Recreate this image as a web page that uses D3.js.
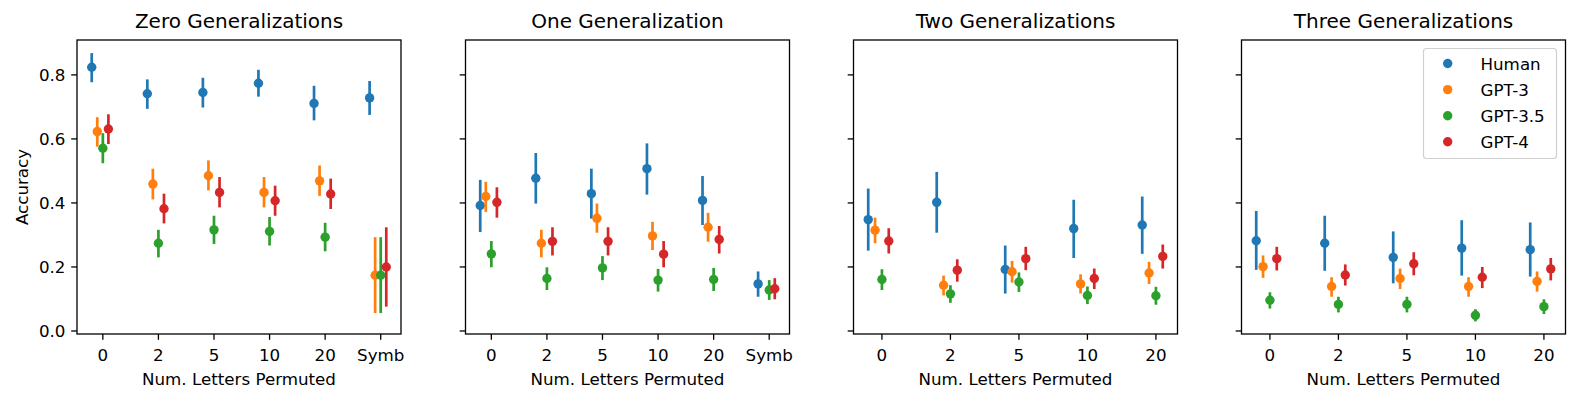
<!DOCTYPE html>
<html>
<head>
<meta charset="utf-8">
<script src="https://cdn.jsdelivr.net/npm/d3@7"></script>
<style>
  body { margin: 0; background: #fff; }
  svg { font-family: "DejaVu Sans", sans-serif; }
</style>
</head>
<body>
<div id="chart"></div>
<script>
// categories per panel
const catsSymb = ["0", "2", "5", "10", "20", "Symb"];
const catsNum = ["0", "2", "5", "10", "20"];
const titles = ["Zero Generalizations", "One Generalization", "Two Generalizations", "Three Generalizations"];
const seriesNames = ["Human", "GPT-3", "GPT-3.5", "GPT-4"];
const colors = ["#1f77b4", "#ff7f0e", "#2ca02c", "#d62728"];
const yTicks = [0.0, 0.2, 0.4, 0.6, 0.8];

// [mean, low, high] for each category
const humanZero = [[0.824, 0.777, 0.868], [0.741, 0.694, 0.786], [0.745, 0.698, 0.791], [0.774, 0.732, 0.816], [0.711, 0.658, 0.766], [0.728, 0.675, 0.781]];
const gpt3Zero = [[0.623, 0.576, 0.668], [0.459, 0.411, 0.507], [0.485, 0.439, 0.533], [0.433, 0.386, 0.481], [0.469, 0.422, 0.517], [0.174, 0.056, 0.293]];
const gpt35Zero = [[0.571, 0.524, 0.618], [0.274, 0.230, 0.316], [0.316, 0.272, 0.360], [0.311, 0.267, 0.356], [0.293, 0.249, 0.338], [0.174, 0.056, 0.293]];
const gpt4Zero = [[0.631, 0.584, 0.677], [0.382, 0.336, 0.429], [0.433, 0.386, 0.481], [0.407, 0.360, 0.454], [0.428, 0.381, 0.476], [0.200, 0.076, 0.324]];

const humanOne = [[0.392, 0.309, 0.472], [0.477, 0.398, 0.556], [0.429, 0.351, 0.507], [0.507, 0.426, 0.586], [0.408, 0.331, 0.484], [0.147, 0.107, 0.186]];
const gpt3One = [[0.420, 0.372, 0.466], [0.274, 0.230, 0.316], [0.352, 0.307, 0.398], [0.297, 0.253, 0.341], [0.324, 0.279, 0.369], null];
const gpt35One = [[0.241, 0.199, 0.281], [0.164, 0.128, 0.199], [0.197, 0.159, 0.234], [0.159, 0.123, 0.194], [0.161, 0.125, 0.197], [0.128, 0.097, 0.159]];
const gpt4One = [[0.402, 0.354, 0.449], [0.280, 0.236, 0.324], [0.280, 0.236, 0.324], [0.240, 0.199, 0.281], [0.286, 0.242, 0.328], [0.132, 0.099, 0.165]];

const humanTwo = [[0.348, 0.251, 0.445], [0.402, 0.307, 0.497], [0.192, 0.117, 0.267], [0.320, 0.228, 0.410], [0.331, 0.241, 0.420]];
const gpt3Two = [[0.315, 0.274, 0.354], [0.143, 0.111, 0.173], [0.185, 0.151, 0.219], [0.147, 0.117, 0.177], [0.181, 0.147, 0.216]];
const gpt35Two = [[0.161, 0.128, 0.193], [0.116, 0.088, 0.143], [0.153, 0.122, 0.183], [0.111, 0.084, 0.139], [0.110, 0.082, 0.138]];
const gpt4Two = [[0.281, 0.242, 0.321], [0.190, 0.154, 0.224], [0.226, 0.190, 0.263], [0.164, 0.131, 0.195], [0.233, 0.195, 0.270]];

const humanThree = [[0.282, 0.191, 0.375], [0.274, 0.188, 0.360], [0.230, 0.149, 0.311], [0.259, 0.173, 0.346], [0.254, 0.170, 0.339]];
const gpt3Three = [[0.201, 0.166, 0.236], [0.139, 0.107, 0.168], [0.164, 0.131, 0.195], [0.139, 0.107, 0.168], [0.155, 0.123, 0.186]];
const gpt35Three = [[0.096, 0.070, 0.121], [0.083, 0.058, 0.107], [0.083, 0.058, 0.107], [0.049, 0.030, 0.068], [0.076, 0.053, 0.099]];
const gpt4Three = [[0.226, 0.189, 0.263], [0.175, 0.142, 0.208], [0.210, 0.174, 0.246], [0.168, 0.134, 0.200], [0.194, 0.158, 0.228]];

const panels = [
    { title: titles[0], cats: catsSymb, series: [humanZero, gpt3Zero, gpt35Zero, gpt4Zero] },
    { title: titles[1], cats: catsSymb, series: [humanOne, gpt3One, gpt35One, gpt4One] },
    { title: titles[2], cats: catsNum, series: [humanTwo, gpt3Two, gpt35Two, gpt4Two] },
    { title: titles[3], cats: catsNum, series: [humanThree, gpt3Three, gpt35Three, gpt4Three] }
];

// dodge offset per series (in category units)
const dodge = [-0.2, -0.1, 0, 0.1];

const width = 1578, height = 402;
const panelLefts = [77, 465.5, 853.5, 1241.5];
const panelW = 324, axTop = 40, axBottom = 334;
const tickLen = 5.8;
const fs = "16.7px";

const svg = d3.select("#chart").append("svg")
    .attr("width", width).attr("height", height);

const yScale = d3.scaleLinear().domain([-0.0094, 0.909]).range([axBottom, axTop]);

panels.forEach((p, pi) => {
    const left = panelLefts[pi];
    const n = p.cats.length;
    const lo = dodge[0], hi = n - 1 + dodge[3];
    const pad = (hi - lo) * 0.05;
    const xScale = d3.scaleLinear().domain([lo - pad, hi + pad]).range([left, left + panelW]);

    const g = svg.append("g");

    // error bars + points
    p.series.forEach((rows, si) => {
        rows.forEach((r, ci) => {
            if (!r) return;
            const cx = xScale(ci + dodge[si]);
            g.append("line")
                .attr("x1", cx).attr("x2", cx)
                .attr("y1", yScale(r[1])).attr("y2", yScale(r[2]))
                .attr("stroke", colors[si]).attr("stroke-width", 2.7);
            g.append("circle")
                .attr("cx", cx).attr("cy", yScale(r[0]))
                .attr("r", 4.7)
                .attr("fill", colors[si]);
        });
    });

    // frame
    g.append("rect")
        .attr("x", left).attr("y", axTop)
        .attr("width", panelW).attr("height", axBottom - axTop)
        .attr("fill", "none").attr("stroke", "#000").attr("stroke-width", 1.3);

    // x ticks
    p.cats.forEach((c, ci) => {
        const x = xScale(ci);
        g.append("line")
            .attr("x1", x).attr("x2", x).attr("y1", axBottom).attr("y2", axBottom + tickLen)
            .attr("stroke", "#000").attr("stroke-width", 1.3);
        g.append("text")
            .attr("x", x).attr("y", 360.5)
            .attr("text-anchor", "middle")
            .style("font-size", fs)
            .text(c);
    });

    // y ticks
    yTicks.forEach(t => {
        const y = yScale(t);
        g.append("line")
            .attr("x1", left - tickLen).attr("x2", left).attr("y1", y).attr("y2", y)
            .attr("stroke", "#000").attr("stroke-width", 1.3);
        if (pi === 0) {
            g.append("text")
                .attr("x", left - 11.5).attr("y", y)
                .attr("dy", "0.36em")
                .attr("text-anchor", "end")
                .style("font-size", fs)
                .text(t.toFixed(1));
        }
    });

    g.append("text")
        .attr("x", left + panelW / 2).attr("y", 385)
        .attr("text-anchor", "middle")
        .style("font-size", fs)
        .text("Num. Letters Permuted");

    g.append("text")
        .attr("x", left + panelW / 2).attr("y", 28)
        .attr("text-anchor", "middle")
        .style("font-size", "20px")
        .text(p.title);

    if (pi === 0) {
        g.append("text")
            .attr("transform", `translate(27.5,${(axTop + axBottom) / 2}) rotate(-90)`)
            .attr("text-anchor", "middle")
            .style("font-size", fs)
            .text("Accuracy");
    }
});

// legend in last panel
const legend = svg.append("g");
legend.append("rect")
    .attr("x", 1423.5).attr("y", 48.5)
    .attr("width", 133).attr("height", 110)
    .attr("rx", 3)
    .attr("fill", "#fff").attr("fill-opacity", 0.8)
    .attr("stroke", "#d0d0d0").attr("stroke-width", 1.2);

seriesNames.forEach((name, i) => {
    const y = 63.5 + i * 26.1;
    legend.append("circle")
        .attr("cx", 1447.7).attr("cy", y).attr("r", 4.7)
        .attr("fill", colors[i]);
    legend.append("text")
        .attr("x", 1480.5).attr("y", y).attr("dy", "0.36em")
        .style("font-size", fs)
        .text(name);
});
</script>
</body>
</html>
